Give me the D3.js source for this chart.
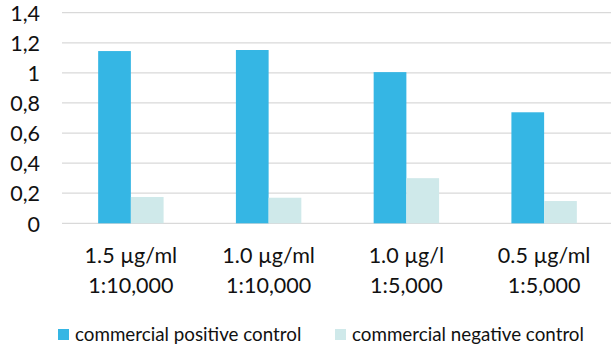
<!DOCTYPE html>
<html>
<head>
<meta charset="utf-8">
<script src="https://cdn.jsdelivr.net/npm/d3@7"></script>
<style>
  html, body { margin: 0; padding: 0; background: #fff; }
  svg { display: block; font-family: Lato, "Open Sans", sans-serif; }
</style>
</head>
<body>
<svg id="chart" width="611" height="347"></svg>
<script>
// Category labels (two lines each) and series values
const categories = ["1.5 µg/ml|1:10,000", "1.0 µg/ml|1:10,000", "1.0 µg/l|1:5,000", "0.5 µg/ml|1:5,000"];
const seriesNames = ["commercial positive control", "commercial negative control"];
const positiveControl = [1.145, 1.152, 1.005, 0.738];
const negativeControl = [0.175, 0.170, 0.300, 0.148];
const yTicks = [0, 0.2, 0.4, 0.6, 0.8, 1, 1.2, 1.4];

const colors = ["#35B6E4", "#CFE9EA"];
const seriesValues = [positiveControl, negativeControl];

const svg = d3.select("#chart");
const plot = { left: 62, right: 613, top: 12.7, bottom: 223.3 };

const y = d3.scaleLinear().domain([0, 1.4]).range([plot.bottom, plot.top]);
const x0 = d3.scaleBand().domain(categories).range([plot.left, plot.right])
  .paddingInner(0.525).paddingOuter(0.2625);
const x1 = d3.scaleBand().domain(seriesNames).range([0, x0.bandwidth()]);

const fmt = v => String(+v.toFixed(1)).replace(".", ",");

// Horizontal gridlines
svg.append("g").selectAll("line").data(yTicks).join("line")
  .attr("x1", plot.left).attr("x2", 611)
  .attr("y1", d => y(d)).attr("y2", d => y(d))
  .attr("stroke", "#d9d9d9").attr("stroke-width", 1.3);

// Y axis labels
const yAxis = d3.axisLeft(y).tickValues(yTicks).tickFormat(fmt).tickSize(0).tickPadding(0);
const yg = svg.append("g").attr("transform", "translate(40,0)").call(yAxis);
yg.select(".domain").remove();
yg.selectAll("text").attr("font-size", 21.5).attr("fill", "#111")
  .attr("font-family", "Lato, 'Open Sans', sans-serif").attr("dy", "0.36em");

// Bars
const groups = svg.append("g").selectAll("g").data(categories).join("g")
  .attr("transform", d => `translate(${x0(d)},0)`);
groups.selectAll("rect")
  .data((d, i) => seriesNames.map((s, j) => ({ s, v: seriesValues[j][i], c: colors[j] })))
  .join("rect")
  .attr("x", d => x1(d.s))
  .attr("width", x1.bandwidth())
  .attr("y", d => y(d.v))
  .attr("height", d => y(0) - y(d.v))
  .attr("fill", d => d.c);

// Category labels
const xl = svg.append("g").selectAll("text").data(categories).join("text")
  .attr("text-anchor", "middle")
  .attr("font-size", 21.5).attr("fill", "#111")
  .attr("transform", d => `translate(${x0(d) + x0.bandwidth() / 2},0)`);
xl.selectAll("tspan").data(d => d.split("|")).join("tspan")
  .attr("x", 0).attr("y", (d, i) => 263 + i * 29.5)
  .text(d => d);

// Legend
const legendX = [58, 335];
const lg = svg.append("g").selectAll("g").data(seriesNames).join("g")
  .attr("transform", (d, i) => `translate(${legendX[i]},0)`);
lg.append("rect").attr("x", 0).attr("y", 329).attr("width", 11).attr("height", 11)
  .attr("fill", (d, i) => colors[i]);
lg.append("text").attr("x", 17).attr("y", 340.5)
  .attr("font-size", 18.8).attr("fill", "#111").text(d => d);
</script>
</body>
</html>
